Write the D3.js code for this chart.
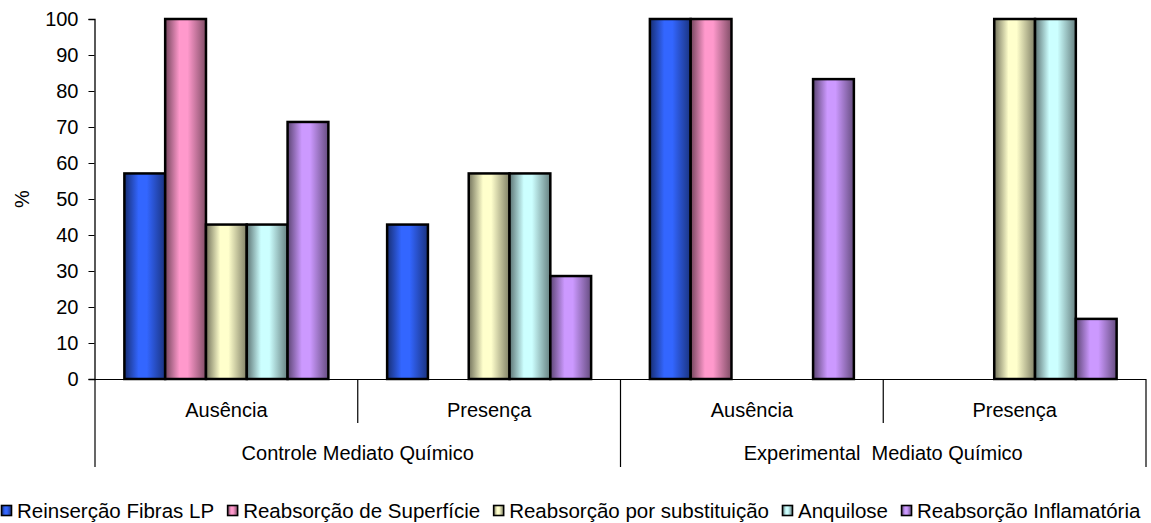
<!DOCTYPE html>
<html><head><meta charset="utf-8">
<script src="https://cdn.jsdelivr.net/npm/d3@7"></script>
<style>body{margin:0;background:#fff}svg{display:block}text{font-family:"Liberation Sans",Arial,sans-serif;fill:#000}</style>
</head><body>
<svg id="c" width="1151" height="523"></svg>
<script>
// ---- data ----
const groups = ["Controle Mediato Químico", "Experimental  Mediato Químico"];
const subcategories = ["Ausência", "Presença"];
const seriesNames = ["Reinserção Fibras LP", "Reabsorção de Superfície", "Reabsorção por substituição", "Anquilose", "Reabsorção Inflamatória"];
const seriesColors = ["#3366FF", "#FF99CC", "#FFFFCC", "#CCFFFF", "#CC99FF"];
// values per category: [Controle-Ausência, Controle-Presença, Experimental-Ausência, Experimental-Presença]
const reinsercaoFibras = [57.1, 42.9, 100, 0];
const reabsorcaoSuperficie = [100, 0, 100, 0];
const reabsorcaoSubstituicao = [42.9, 57.1, 0, 100];
const anquilose = [42.9, 57.1, 0, 100];
const reabsorcaoInflamatoria = [71.4, 28.6, 83.3, 16.7];
const yTicks = [0, 10, 20, 30, 40, 50, 60, 70, 80, 90, 100];

const seriesValues = [reinsercaoFibras, reabsorcaoSuperficie, reabsorcaoSubstituicao, anquilose, reabsorcaoInflamatoria];
const categories = [];
groups.forEach(g => subcategories.forEach(s => categories.push(g + "|" + s)));

const svg = d3.select("#c");
const L = 95, R = 1146, T = 19, B = 379;

const x = d3.scaleBand().domain(categories).range([L, R]).padding(0);
const xs = d3.scaleBand().domain(seriesNames).range([0, x.bandwidth()]).paddingInner(0).paddingOuter(0.72);
const y = d3.scaleLinear().domain([0, 100]).range([B, T]);

// gradients
const defs = svg.append("defs");
function shade(c, k) { const r = d3.rgb(c); return d3.rgb(r.r * k, r.g * k, r.b * k).toString(); }
seriesColors.forEach((c, i) => {
  const g = defs.append("linearGradient").attr("id", "g" + i).attr("x1", "0").attr("x2", "1").attr("y1", "0").attr("y2", "0");
  g.append("stop").attr("offset", "0%").attr("stop-color", shade(c, 0.45));
  g.append("stop").attr("offset", "35%").attr("stop-color", c);
  g.append("stop").attr("offset", "55%").attr("stop-color", c);
  g.append("stop").attr("offset", "100%").attr("stop-color", shade(c, 0.5));
});

// bars
const barData = [];
categories.forEach((cat, ci) => seriesNames.forEach((s, si) => {
  barData.push({cat, s, si, v: seriesValues[si][ci]});
}));
svg.append("g").selectAll("rect").data(barData.filter(d => d.v > 0)).join("rect")
  .attr("x", d => x(d.cat) + xs(d.s))
  .attr("y", d => y(d.v))
  .attr("width", xs.bandwidth())
  .attr("height", d => y(0) - y(d.v))
  .attr("fill", d => "url(#g" + d.si + ")")
  .attr("stroke", "#000").attr("stroke-width", 2.5);

// y axis
const ya = svg.append("g").attr("transform", `translate(${L - 0.5},0)`)
  .call(d3.axisLeft(y).tickValues(yTicks).tickSize(6).tickPadding(10).tickFormat(d3.format("d")));
ya.select(".domain").attr("stroke", "#000").attr("stroke-width", 1.3);
ya.selectAll(".tick line").attr("stroke", "#000");
ya.selectAll(".tick text").attr("font-size", 20).attr("font-family", '"Liberation Sans",Arial,sans-serif').attr("fill", "#000");

svg.append("text").attr("transform", "translate(29,199) rotate(-90)")
  .attr("text-anchor", "middle").attr("font-size", 20).text("%");

// category axis
const ax = svg.append("g").attr("stroke", "#000").attr("stroke-width", 1.2);
ax.append("line").attr("x1", L).attr("x2", R).attr("y1", B + 0.5).attr("y2", B + 0.5);
const groupEdges = [L, x(categories[2]), R];
groupEdges.forEach(e => ax.append("line").attr("x1", e).attr("x2", e).attr("y1", B).attr("y2", 467));
[x(categories[1]), x(categories[3])].forEach(e => ax.append("line").attr("x1", e).attr("x2", e).attr("y1", B).attr("y2", 423));

svg.append("g").selectAll("text").data(categories).join("text")
  .attr("x", d => x(d) + x.bandwidth() / 2).attr("y", 417)
  .attr("text-anchor", "middle").attr("font-size", 20).text(d => d.split("|")[1]);
svg.append("g").selectAll("text").data(groups).join("text")
  .attr("x", (d, i) => (groupEdges[i] + groupEdges[i + 1]) / 2).attr("y", 460)
  .attr("text-anchor", "middle").attr("font-size", 20).attr("xml:space", "preserve").style("white-space", "pre").text(d => d);

// legend
const lg = svg.append("g");
let cx = 1;
seriesNames.forEach((s, i) => {
  lg.append("rect").attr("x", cx + 0.5).attr("y", 505.5).attr("width", 10).attr("height", 10)
    .attr("fill", "url(#g" + i + ")").attr("stroke", "#000").attr("stroke-width", 1.6);
  const t = lg.append("text").attr("x", cx + 16).attr("y", 518).attr("font-size", 20.5).text(s);
  cx += 16 + t.node().getComputedTextLength() + 13;
});
</script>
</body></html>
